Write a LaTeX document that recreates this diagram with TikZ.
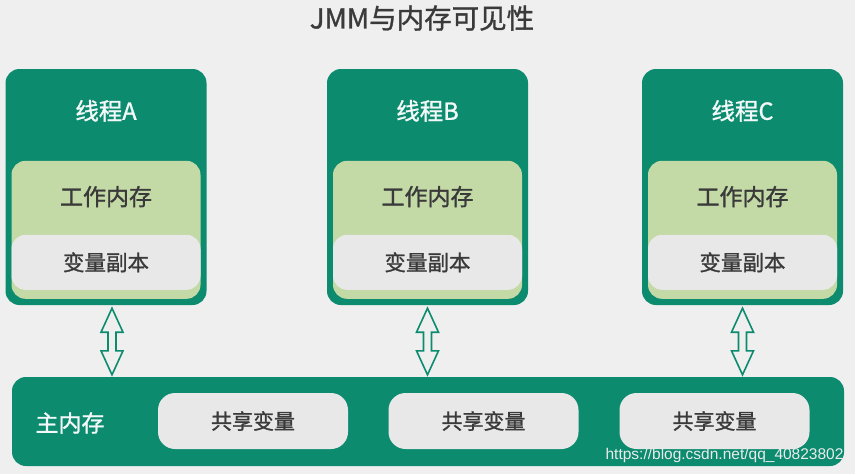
\documentclass[tikz,border=0pt]{standalone}
\usepackage{fontspec}
\setmainfont{Noto Sans CJK SC}[FakeBold=1.2]
\newfontfamily\wmfont{Liberation Sans}
\usepackage{tikz}
\usetikzlibrary{calc, positioning}
\definecolor{jmmGreen}{HTML}{0C8B6F}
\definecolor{jmmLight}{HTML}{C3D9A6}
\definecolor{jmmBox}{HTML}{E8E8E8}
\definecolor{jmmBg}{HTML}{EFEFEF}
\definecolor{jmmText}{HTML}{3A3A3A}

\begin{document}
\begin{tikzpicture}[x=1pt, y=-1pt,
  threadbox/.style={fill=jmmGreen, rounded corners=14pt, inner sep=0pt,
                    minimum width=201pt, minimum height=236pt},
  workbox/.style={fill=jmmLight, rounded corners=14pt, inner sep=0pt,
                  minimum width=189pt, minimum height=138pt},
  copybox/.style={fill=jmmBox, rounded corners=14pt, inner sep=0pt,
                  minimum width=189pt, minimum height=55pt, text=jmmText,
                  font=\fontsize{21.5}{22}\selectfont},
  mainbox/.style={fill=jmmGreen, rounded corners=14pt, inner sep=0pt,
                  minimum width=832pt, minimum height=89pt},
  sharebox/.style={fill=jmmBox, rounded corners=17pt, inner sep=0pt,
                   minimum width=190pt, minimum height=56pt, text=jmmText,
                   font=\fontsize{21}{22}\selectfont},
  memarrow/.style={draw=jmmGreen, fill=jmmBg, line width=1.6pt, line join=miter}]
  % 背景与画布大小
  \fill[jmmBg] (0,0) rectangle (855,474);
  \useasboundingbox (0,0) rectangle (855,474);
  % 标题
  \node[font=\fontsize{27.5}{28}\selectfont, text=jmmText] (title) at (422,18) {JMM与内存可见性};
  % 三个线程 — 工作内存 + 变量副本
  \foreach \tid/\cx in {A/106, B/427.5, C/742.5}{
    \node[threadbox] (t\tid) at (\cx,187) {};
    \node[font=\fontsize{23.5}{24}\selectfont, text=white!95!jmmGreen] (n\tid) at ($(t\tid.north)+(0,42)$) {线程\tid};
    \node[workbox] (w\tid) at ($(t\tid.north)+(0,161)$) {};
    \node[font=\fontsize{23}{23}\selectfont, text=jmmText] (wt\tid) at ($(w\tid.north)+(0,36)$) {工作内存};
    \node[copybox] (c\tid) at ($(t\tid.north)+(0,193.5)$) {变量副本};
  }
  % 主内存
  \node[mainbox] (main) at (428,421.5) {};
  \node[font=\fontsize{23}{23}\selectfont, text=white!95!jmmGreen] (mt) at (70,423) {主内存};
  \foreach \cx [count=\i] in {253, 483.5, 714.5}
    \node[sharebox] (s\i) at (\cx,421) {共享变量};
  % 线程 <-> 主内存 的双向箭头
  \foreach \tid/\dx in {A/6, B/0, C/0}
    \draw[memarrow] let \p1=($(t\tid.south)+(\dx,3)$), \p2=($(main.north)+(0,-2)$) in
      (\x1,\y1) -- (\x1+11pt,\y1-24pt) -- (\x1+4pt,\y1-24pt) -- (\x1+4pt,\y2+24pt)
      -- (\x1+11pt,\y2+24pt) -- (\x1,\y2) -- (\x1-11pt,\y2+24pt) -- (\x1-4pt,\y2+24pt)
      -- (\x1-4pt,\y1-24pt) -- (\x1-11pt,\y1-24pt) -- cycle;
  % 水印
  \node[font=\wmfont\fontsize{15.5}{16}\selectfont, text=white!92!black, anchor=east] (wm) at (847,455) {https://blog.csdn.net/qq\_40823802};
\end{tikzpicture}
\end{document}
